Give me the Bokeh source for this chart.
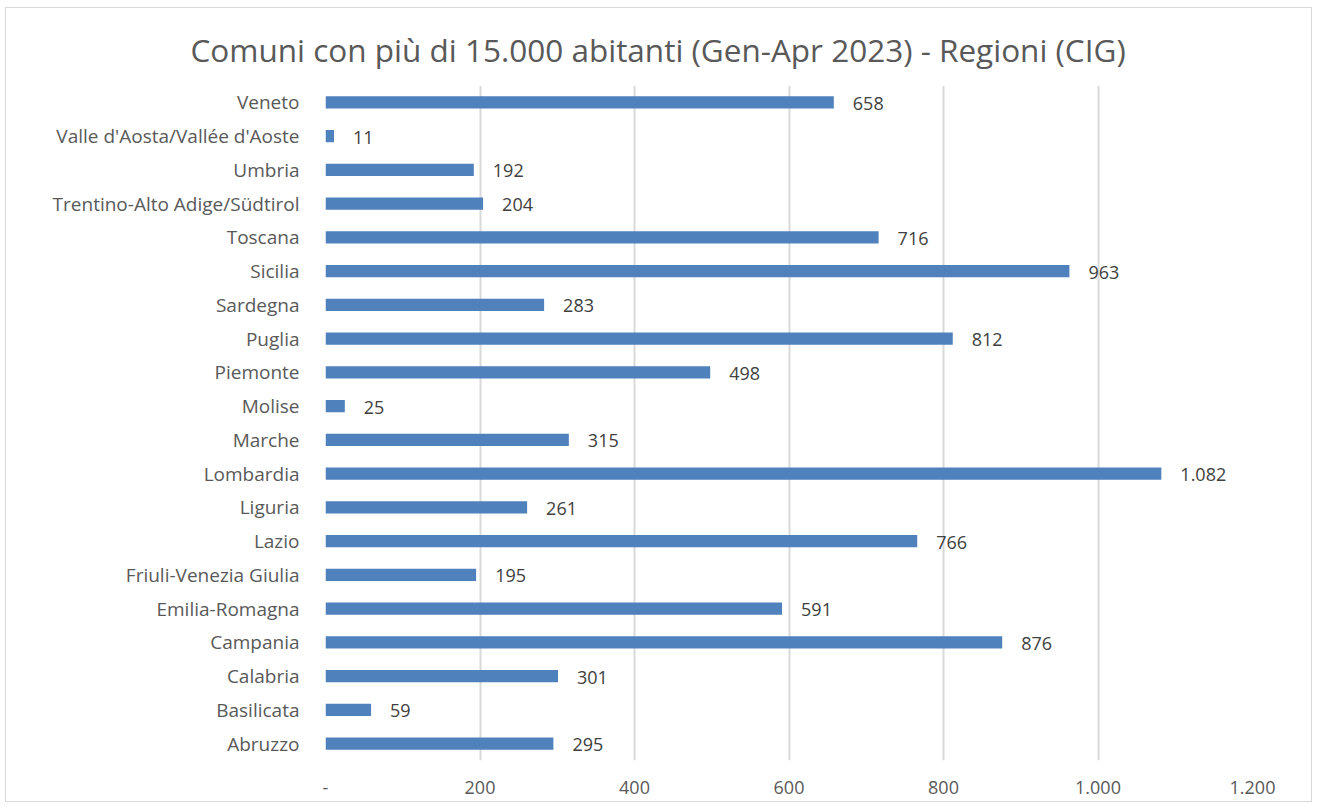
from bokeh.plotting import figure
from bokeh.models import ColumnDataSource, FixedTicker, Range1d, Title
from bokeh.embed import file_html
from bokeh.resources import INLINE
from bokeh.core.properties import value

title_text = "Comuni con più di 15.000 abitanti (Gen-Apr 2023) - Regioni (CIG)"
regions = ["Abruzzo", "Basilicata", "Calabria", "Campania", "Emilia-Romagna",
           "Friuli-Venezia Giulia", "Lazio", "Liguria", "Lombardia", "Marche",
           "Molise", "Piemonte", "Puglia", "Sardegna", "Sicilia", "Toscana",
           "Trentino-Alto Adige/Südtirol", "Umbria", "Valle d'Aosta/Vallée d'Aoste", "Veneto"]
counts = [295, 59, 301, 876, 591, 195, 766, 261, 1082, 315,
          25, 498, 812, 283, 963, 716, 204, 192, 11, 658]
tick_values = [0, 200, 400, 600, 800, 1000, 1200]
tick_labels = ["-", "200", "400", "600", "800", "1.000", "1.200"]

FONT = "Open Sans"
GRAY = "#595959"
BAR = "#4f81bd"

TOP, FH, BOT = 77, 675, 41
labels = [f"{v:,}".replace(",", ".") for v in counts]
src = ColumnDataSource(dict(region=regions, count=counts, label=labels))

p = figure(y_range=regions, x_range=Range1d(0, 1200), output_backend="svg",
           toolbar_location=None, frame_width=927, frame_height=FH,
           min_border_left=319, min_border_right=59, min_border_top=TOP,
           min_border_bottom=BOT, background_fill_color="white",
           border_fill_color="white")
p.outline_line_color = None
p.styles = {"border": "1px solid #d9d9d9", "margin-left": "5px", "margin-top": "7px"}

p.hbar(y="region", right="count", left=0, height=0.36, source=src,
       fill_color=BAR, line_color=None)
p.text(x="count", y="region", text="label", source=src, x_offset=19, y_offset=1,
       text_baseline="middle", text_align="left", text_color="#404040",
       text_font=value(FONT), text_font_size="18px")

p.title = Title(text=title_text, align="left", text_font=FONT,
                text_font_size="31.5px", text_color=GRAY, text_font_style="normal",
                offset=-135, standoff=29)

p.xaxis.ticker = FixedTicker(ticks=tick_values)
p.xaxis.major_label_overrides = {t: l for t, l in zip(tick_values, tick_labels)}
for ax in (p.xaxis[0], p.yaxis[0]):
    ax.axis_line_color = None
    ax.major_tick_line_color = None
    ax.minor_tick_line_color = None
    ax.major_label_text_font = FONT
    ax.major_label_text_font_size = "18px"
    ax.major_label_text_color = GRAY
p.yaxis.major_label_text_font_size = "19px"
p.xaxis.major_label_standoff = 14
p.yaxis.major_label_standoff = 20

p.xgrid.grid_line_color = "#d9d9d9"
p.xgrid.grid_line_width = 2
p.ygrid.grid_line_color = None

open("out.html", "w").write(file_html(p, INLINE))
